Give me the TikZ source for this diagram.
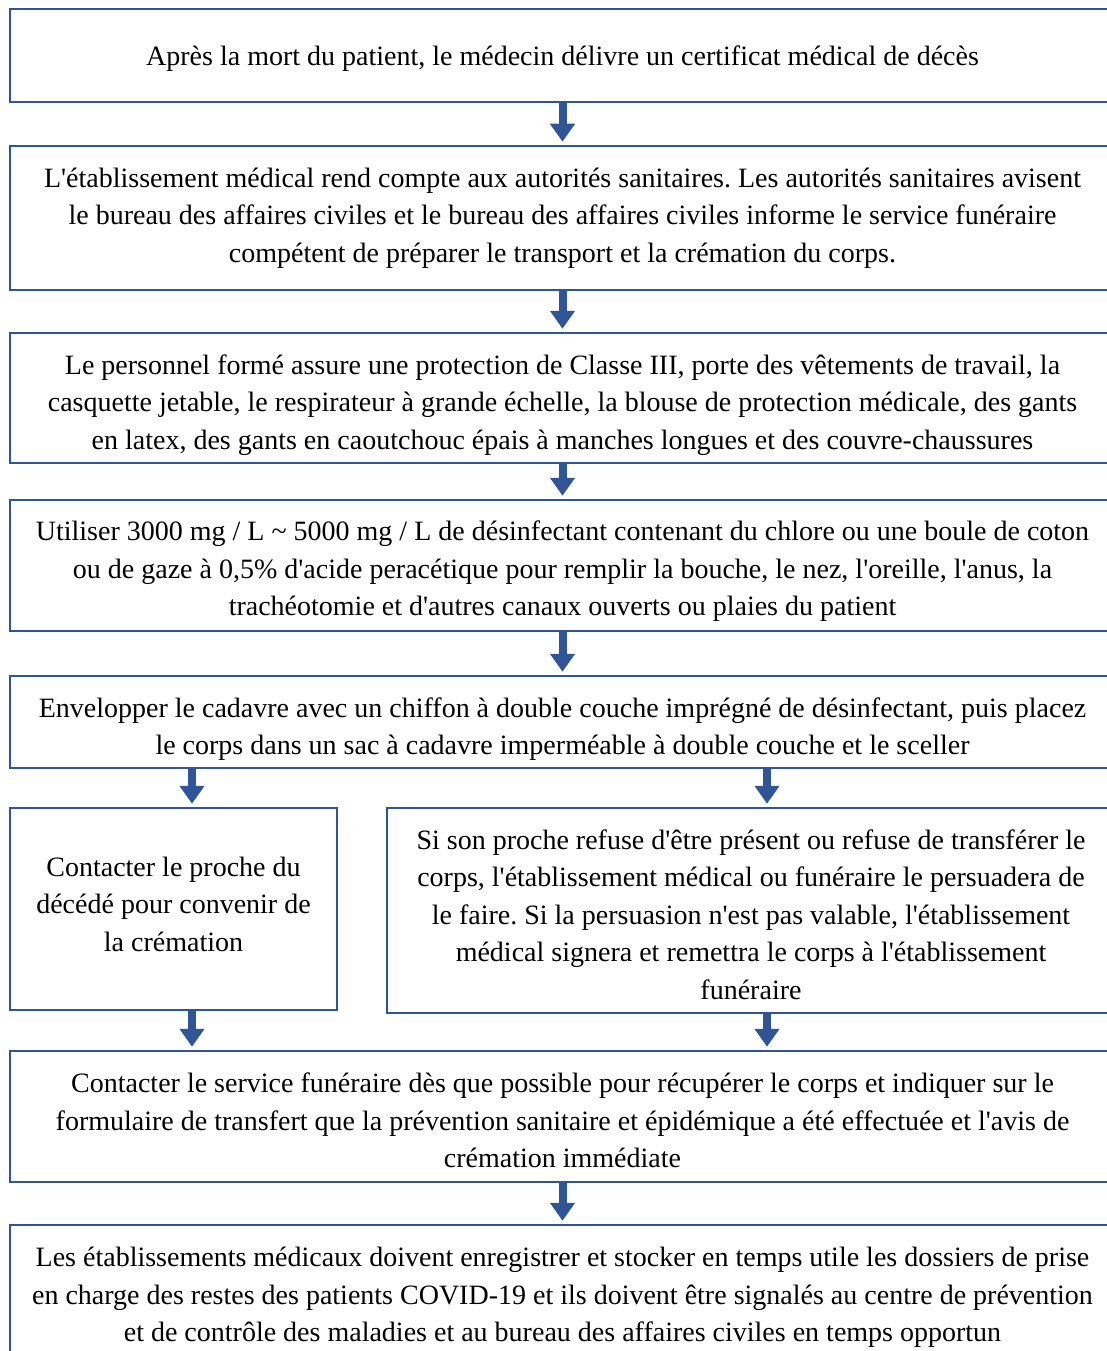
\documentclass[tikz,border=0pt]{standalone}
\usepackage{fontspec}
\setmainfont{Liberation Serif}[Ligatures=TeXOff]
\usetikzlibrary{arrows.meta}
\definecolor{boxblue}{RGB}{47,85,151}
\frenchspacing
\tikzset{
  box/.style={draw=boxblue,line width=2.5pt,inner sep=0pt},
  txt/.style={align=center,inner sep=0pt,font=\fontsize{28}{37.5}\selectfont},
  flow/.style={draw=boxblue,line width=8pt,-{Triangle[width=24pt,length=18pt]},shorten >=3pt}
}
\begin{document}
\begin{tikzpicture}[x=1pt,y=-1pt]
\useasboundingbox (0,0) rectangle (1107,1351);
% frames, pixel coordinates of the page
\node[box,minimum width=1105pt,minimum height=93pt] (b1) at (562.5,55.5) {};
\node[box,minimum width=1105pt,minimum height=144pt] (b2) at (562.5,218) {};
\node[box,minimum width=1105pt,minimum height=130pt] (b3) at (562.5,398) {};
\node[box,minimum width=1105pt,minimum height=131pt] (b4) at (562.5,565.5) {};
\node[box,minimum width=1105pt,minimum height=92pt] (b5) at (562.5,722) {};
\node[box,minimum width=327pt,minimum height=202pt] (b6a) at (173.5,909) {};
\node[box,minimum width=728pt,minimum height=205pt] (b6b) at (751,910.5) {};
\node[box,minimum width=1105pt,minimum height=131pt] (b7) at (562.5,1116.5) {};
\node[box,minimum width=1105pt,minimum height=140pt] (b8) at (562.5,1295) {};
% texts
\node[txt] (t1) at (562.5,58.5)
  {Après la mort du patient, le médecin délivre un certificat médical de décès};
\node[txt] (t2) at (562.5,218)
  {L'établissement médical rend compte aux autorités sanitaires. Les autorités sanitaires avisent\\
   le bureau des affaires civiles et le bureau des affaires civiles informe le service funéraire\\
   compétent de préparer le transport et la crémation du corps.};
\node[txt] (t3) at (562.5,405)
  {Le personnel formé assure une protection de Classe III, porte des vêtements de travail, la\\
   casquette jetable, le respirateur à grande échelle, la blouse de protection médicale, des gants\\
   en latex, des gants en caoutchouc épais à manches longues et des couvre-chaussures};
\node[txt] (t4) at (562.5,571.5)
  {Utiliser 3000 mg / L \textasciitilde{} 5000 mg / L de désinfectant contenant du chlore ou une boule de coton\\
   ou de gaze à 0,5\% d'acide peracétique pour remplir la bouche, le nez, l'oreille, l'anus, la\\
   trachéotomie et d'autres canaux ouverts ou plaies du patient};
\node[txt] (t5) at (562.5,729)
  {Envelopper le cadavre avec un chiffon à double couche imprégné de désinfectant, puis placez\\
   le corps dans un sac à cadavre imperméable à double couche et le sceller};
\node[txt] (t6a) at (173.5,904)
  {Contacter le proche du\\ décédé pour convenir de\\ la crémation};
\node[txt] (t6b) at (751,914.5)
  {Si son proche refuse d'être présent ou refuse de transférer le\\
   corps, l'établissement médical ou funéraire le persuadera de\\
   le faire. Si la persuasion n'est pas valable, l'établissement\\
   médical signera et remettra le corps à l'établissement\\
   funéraire};
\node[txt] (t7) at (562.5,1120.5)
  {Contacter le service funéraire dès que possible pour récupérer le corps et indiquer sur le\\
   formulaire de transfert que la prévention sanitaire et épidémique a été effectuée et l'avis de\\
   crémation immédiate};
\node[txt] (t8) at (562.5,1297.5)
  {Les établissements médicaux doivent enregistrer et stocker en temps utile les dossiers de prise\\
   en charge des restes des patients COVID-19 et ils doivent être signalés au centre de prévention\\
   et de contrôle des maladies et au bureau des affaires civiles en temps opportun};
% arrows
\coordinate (l) at (192,0);
\coordinate (r) at (767,0);
\draw[flow] (b1) -- (b2);
\draw[flow] (b2) -- (b3);
\draw[flow] (b3) -- (b4);
\draw[flow] (b4) -- (b5);
\draw[flow] (b5.south -| l) -- (b6a.north -| l);
\draw[flow] (b5.south -| r) -- (b6b.north -| r);
\draw[flow] (b6a.south -| l) -- (b7.north -| l);
\draw[flow] (b6b.south -| r) -- (b7.north -| r);
\draw[flow] (b7) -- (b8);
\end{tikzpicture}
\end{document}
